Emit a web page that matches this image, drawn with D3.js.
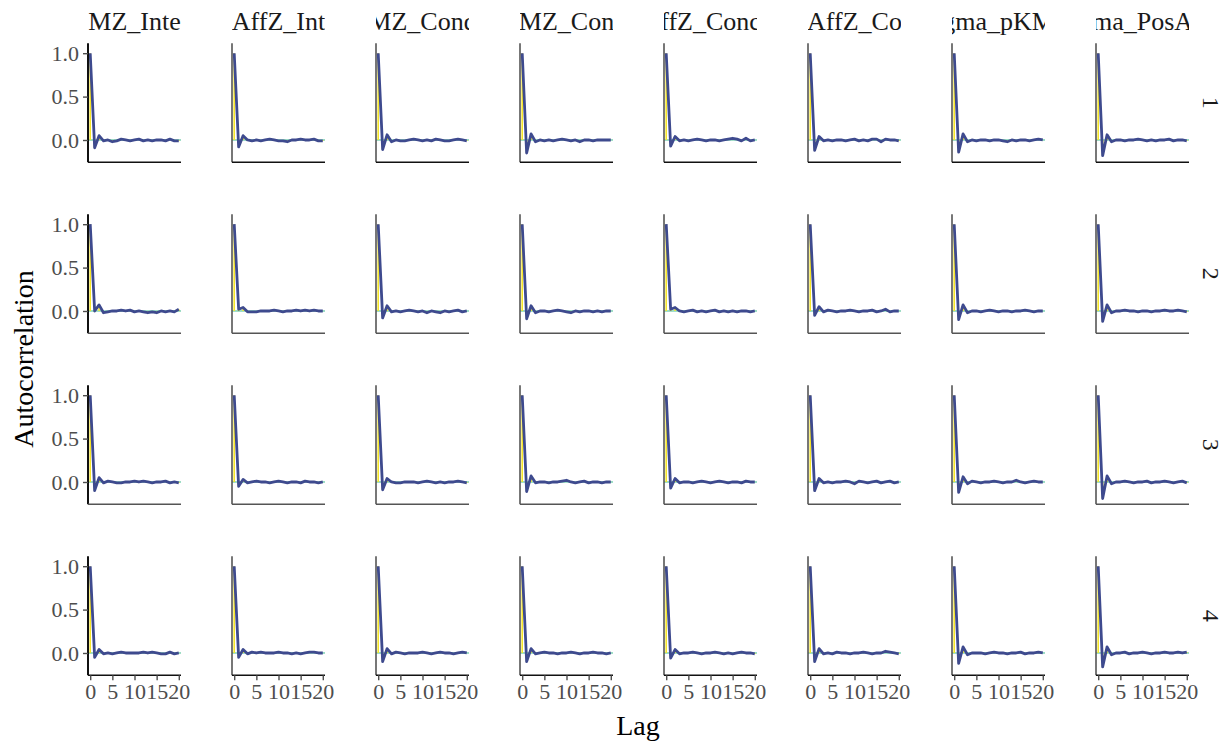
<!DOCTYPE html>
<html>
<head>
<meta charset="utf-8">
<script src="https://cdn.jsdelivr.net/npm/d3@7"></script>
<style>
  body { margin: 0; background: #fff; }
  svg { display: block; }
  svg text { font-family: 'Liberation Serif', 'Times New Roman', serif; }
</style>
</head>
<body>
<svg id="chart" width="1228" height="744"></svg>
<script>
// strip labels as they appear (clipped) in the facets
const params = ['MZ_Inte', 'AffZ_Int', 'MZ_Cond', 'MZ_Con', 'ffZ_Conc', 'AffZ_Co', 'gma_pKM', 'ma_PosA'];
const chains = ['1', '2', '3', '4'];
const lags = d3.range(0, 21);
const xTicks = [0, 5, 10, 15, 20];
const yTicks = [0, 0.5, 1];

const acfChain1 = [
  [1, -0.09, 0.05, -0.01, 0.0, -0.02, -0.01, 0.01, 0.0, -0.01, 0.0, 0.01, -0.01, 0.0, -0.01, 0.0, 0.0, -0.01, 0.01, -0.01, -0.01],
  [1, -0.08, 0.05, 0.0, -0.01, 0.0, -0.01, 0.0, 0.01, 0.0, -0.01, -0.01, -0.02, 0.0, 0.0, 0.01, 0.0, 0.0, 0.01, -0.01, -0.01],
  [1, -0.11, 0.06, -0.02, 0.0, -0.01, -0.01, 0.0, 0.01, 0.0, -0.01, 0.0, -0.01, 0.01, 0.0, -0.01, -0.01, 0.0, 0.01, 0.0, -0.01],
  [1, -0.15, 0.07, -0.02, 0.0, -0.01, 0.0, -0.01, 0.0, 0.01, 0.0, -0.01, 0.0, -0.02, 0.0, 0.0, -0.01, 0.0, 0.0, 0.0, 0.0],
  [1, -0.07, 0.04, -0.01, 0.0, -0.01, 0.0, 0.01, 0.0, -0.01, 0.0, 0.0, -0.01, 0.0, 0.01, 0.02, 0.01, -0.01, 0.02, -0.01, 0.0],
  [1, -0.12, 0.04, -0.01, 0.0, -0.01, 0.0, 0.0, -0.01, 0.0, 0.01, -0.01, 0.0, -0.01, 0.01, 0.01, -0.02, 0.01, 0.0, 0.0, -0.01],
  [1, -0.14, 0.07, -0.02, 0.0, -0.01, 0.0, 0.0, -0.01, 0.0, 0.0, -0.01, -0.02, 0.0, -0.01, 0.0, 0.0, -0.01, 0.0, 0.01, 0.0],
  [1, -0.18, 0.06, -0.02, 0.0, 0.0, -0.01, 0.0, 0.0, 0.01, 0.0, -0.01, 0.0, -0.01, 0.0, 0.0, 0.01, -0.01, 0.0, 0.0, -0.01]
];
const acfChain2 = [
  [1, 0.0, 0.07, -0.02, -0.01, 0.0, 0.0, 0.01, 0.0, 0.01, -0.01, 0.0, -0.01, -0.02, -0.01, -0.02, 0.0, -0.01, 0.0, -0.01, 0.02],
  [1, 0.02, 0.04, -0.01, -0.01, -0.01, 0.0, 0.0, 0.0, 0.01, 0.0, -0.01, 0.0, 0.0, 0.01, 0.0, 0.01, 0.0, 0.01, 0.0, 0.0],
  [1, -0.08, 0.06, -0.01, 0.0, -0.01, 0.0, 0.01, 0.0, -0.01, 0.0, -0.02, 0.0, -0.01, -0.02, 0.0, -0.01, 0.0, 0.01, -0.01, 0.0],
  [1, -0.09, 0.06, -0.02, 0.0, 0.0, -0.01, 0.0, 0.01, 0.0, -0.01, -0.02, 0.0, -0.01, 0.0, 0.0, -0.01, 0.0, -0.01, 0.0, 0.0],
  [1, 0.02, 0.04, 0.0, -0.01, 0.0, 0.01, -0.01, 0.0, -0.01, 0.0, 0.01, -0.01, 0.0, -0.01, 0.0, -0.01, 0.0, 0.0, -0.01, 0.0],
  [1, -0.05, 0.05, -0.01, 0.01, 0.0, -0.01, 0.0, 0.0, 0.01, 0.0, -0.01, 0.0, 0.0, 0.01, -0.01, 0.0, 0.02, -0.01, 0.0, 0.0],
  [1, -0.1, 0.07, -0.02, 0.0, 0.0, -0.01, 0.0, 0.01, 0.0, -0.01, 0.0, 0.0, -0.01, 0.0, 0.0, 0.01, 0.0, -0.01, 0.0, 0.0],
  [1, -0.12, 0.07, -0.02, 0.0, 0.0, 0.01, 0.0, 0.0, -0.01, 0.0, 0.0, -0.01, 0.0, 0.0, 0.01, 0.0, 0.0, 0.01, 0.0, -0.01]
];
const acfChain3 = [
  [1, -0.1, 0.05, -0.01, 0.01, 0.0, -0.01, -0.01, 0.0, 0.0, 0.01, 0.0, 0.01, 0.0, -0.01, 0.0, 0.0, 0.01, -0.01, 0.0, -0.01],
  [1, -0.05, 0.03, -0.01, 0.0, 0.01, 0.0, 0.0, -0.01, 0.0, 0.01, 0.0, -0.01, 0.0, 0.0, -0.01, 0.01, 0.0, 0.0, -0.01, 0.0],
  [1, -0.09, 0.04, 0.0, -0.01, -0.01, 0.0, 0.0, 0.0, -0.01, 0.0, 0.01, 0.0, -0.01, 0.0, -0.01, 0.0, 0.0, 0.01, 0.0, -0.01],
  [1, -0.11, 0.07, -0.01, 0.0, 0.0, -0.01, 0.0, 0.0, 0.01, 0.02, 0.0, -0.01, 0.0, 0.01, -0.01, 0.0, 0.0, -0.01, 0.0, 0.0],
  [1, -0.07, 0.04, -0.01, 0.0, 0.0, -0.01, 0.0, 0.01, 0.0, -0.01, 0.0, 0.01, 0.0, -0.01, 0.0, 0.0, -0.01, 0.01, 0.0, 0.0],
  [1, -0.1, 0.04, -0.01, 0.0, -0.01, 0.0, 0.0, 0.01, 0.0, -0.02, 0.01, 0.0, -0.01, 0.0, 0.01, -0.01, 0.0, 0.01, -0.01, 0.0],
  [1, -0.12, 0.06, -0.02, 0.01, 0.0, -0.01, 0.0, 0.0, 0.01, 0.0, -0.01, 0.0, 0.0, 0.02, 0.0, -0.01, 0.0, 0.01, 0.0, 0.0],
  [1, -0.19, 0.07, -0.02, 0.0, 0.0, 0.01, 0.0, -0.01, 0.0, 0.0, 0.01, -0.01, 0.0, 0.0, 0.01, 0.0, -0.01, 0.0, 0.01, -0.01]
];
const acfChain4 = [
  [1, -0.05, 0.04, -0.01, 0.0, -0.01, 0.0, 0.01, 0.0, 0.0, 0.0, 0.0, 0.01, 0.0, 0.01, 0.0, -0.01, -0.01, 0.01, -0.01, 0.0],
  [1, -0.05, 0.04, -0.01, 0.01, 0.0, 0.01, 0.0, 0.0, 0.0, 0.01, 0.0, 0.0, -0.01, 0.0, -0.01, 0.0, 0.01, 0.01, 0.0, 0.0],
  [1, -0.1, 0.05, -0.01, 0.01, 0.0, -0.01, 0.0, 0.0, 0.0, 0.01, 0.0, -0.01, 0.0, 0.01, 0.0, 0.0, -0.01, 0.0, 0.01, 0.0],
  [1, -0.1, 0.05, -0.01, 0.0, 0.01, 0.0, 0.0, -0.01, 0.0, 0.0, 0.01, 0.0, -0.01, 0.0, 0.0, 0.01, 0.0, 0.0, -0.01, 0.0],
  [1, -0.06, 0.04, -0.01, 0.0, 0.0, 0.01, 0.0, -0.01, 0.0, 0.0, 0.01, 0.0, -0.01, 0.0, -0.01, 0.0, 0.01, 0.0, 0.0, -0.01],
  [1, -0.1, 0.05, -0.01, 0.0, -0.01, 0.01, 0.0, 0.0, -0.01, 0.0, 0.0, 0.01, 0.0, -0.01, 0.0, 0.0, 0.02, 0.01, 0.0, -0.01],
  [1, -0.12, 0.07, -0.02, 0.0, 0.0, 0.0, -0.01, 0.0, 0.01, 0.0, 0.0, -0.01, 0.0, 0.0, 0.01, -0.01, 0.0, 0.0, 0.01, 0.0],
  [1, -0.16, 0.07, -0.02, 0.0, 0.0, 0.01, -0.01, 0.0, 0.0, 0.01, 0.0, -0.01, 0.0, 0.0, 0.01, 0.0, 0.0, 0.01, 0.0, 0.01]
];
const acfByChain = [acfChain1, acfChain2, acfChain3, acfChain4];

// layout
const panelLeft = 88, colStep = 144, panelW = 93;
const panelTop = 43.3, rowStep = 171, panelH = 119;
const serif = "'Liberation Serif', 'Times New Roman', serif";

const svg = d3.select('#chart');

const x = d3.scaleLinear().domain([-0.5, 20.5]).range([0, panelW]);
const y = d3.scaleLinear().domain([-0.257, 1.114]).range([panelH, 0]);

const line = d3.line()
  .x((d, i) => x(lags[i]))
  .y(d => y(d));

const defs = svg.append('defs');
params.forEach((p, c) => {
  defs.append('clipPath').attr('id', `strip-${c}`)
    .append('rect')
    .attr('x', panelLeft + c * colStep)
    .attr('y', 0)
    .attr('width', panelW)
    .attr('height', 40);
});

// strip labels on top
svg.selectAll('.strip-top')
  .data(params)
  .enter()
  .append('text')
  .attr('class', 'strip-top')
  .attr('clip-path', (d, c) => `url(#strip-${c})`)
  .attr('x', (d, c) => panelLeft + c * colStep + panelW / 2)
  .attr('y', 30)
  .attr('text-anchor', 'middle')
  .attr('font-family', serif)
  .attr('font-size', 26)
  .attr('fill', '#1a1a1a')
  .text(d => d);

// strip labels on the right
svg.selectAll('.strip-right')
  .data(chains)
  .enter()
  .append('text')
  .attr('class', 'strip-right')
  .attr('transform', (d, r) => `translate(1203, ${panelTop + r * rowStep + panelH / 2}) rotate(90)`)
  .attr('text-anchor', 'middle')
  .attr('font-family', serif)
  .attr('font-size', 24)
  .attr('fill', '#1a1a1a')
  .text(d => d);

chains.forEach((chain, r) => {
  params.forEach((p, c) => {
    const vals = acfByChain[r][c];
    const g = svg.append('g')
      .attr('transform', `translate(${panelLeft + c * colStep}, ${panelTop + r * rowStep})`);

    g.append('line')
      .attr('x1', 0).attr('x2', panelW)
      .attr('y1', y(0)).attr('y2', y(0))
      .attr('stroke', '#3fbc8c')
      .attr('stroke-width', 1);

    g.selectAll('.seg')
      .data(vals)
      .enter()
      .append('line')
      .attr('class', 'seg')
      .attr('x1', (d, i) => x(lags[i]))
      .attr('x2', (d, i) => x(lags[i]))
      .attr('y1', y(0))
      .attr('y2', d => y(d))
      .attr('stroke', '#f5e52a')
      .attr('stroke-width', 1.6);

    g.append('path')
      .datum(vals)
      .attr('d', line)
      .attr('fill', 'none')
      .attr('stroke', '#3e4a8e')
      .attr('stroke-width', 2.8)
      .attr('stroke-linejoin', 'round');

    // axis lines
    g.append('line')
      .attr('x1', 0).attr('x2', 0)
      .attr('y1', 0).attr('y2', panelH)
      .attr('stroke', c === 0 ? '#111' : '#555')
      .attr('stroke-width', c === 0 ? 2 : 1.6);
    g.append('line')
      .attr('x1', 0).attr('x2', panelW)
      .attr('y1', panelH).attr('y2', panelH)
      .attr('stroke', r === 3 || r === 0 ? '#111' : '#555')
      .attr('stroke-width', 1.6);

    if (c === 0) {
      const ya = g.append('g')
        .call(d3.axisLeft(y).tickValues(yTicks).tickFormat(d3.format('.1f')).tickSize(5).tickPadding(4));
      ya.attr('font-family', serif);
      ya.select('.domain').remove();
      ya.selectAll('line').attr('stroke', '#4d4d4d').attr('stroke-width', 1.4);
      ya.selectAll('text')
        .attr('font-family', serif)
        .attr('font-size', 22)
        .attr('fill', '#4d4d4d');
    }
    if (r === 3) {
      const xa = g.append('g')
        .attr('transform', `translate(0, ${panelH})`)
        .call(d3.axisBottom(x).tickValues(xTicks).tickSize(5).tickPadding(3));
      xa.attr('font-family', serif);
      xa.select('.domain').remove();
      xa.selectAll('line').attr('stroke', '#4d4d4d').attr('stroke-width', 1.4);
      xa.selectAll('text')
        .attr('font-family', serif)
        .attr('font-size', 22)
        .attr('fill', '#4d4d4d');
    }
  });
});

// axis titles
svg.append('text')
  .attr('x', 638)
  .attr('y', 735)
  .attr('text-anchor', 'middle')
  .attr('font-family', serif)
  .attr('font-size', 28)
  .attr('fill', '#000')
  .text('Lag');

svg.append('text')
  .attr('transform', 'translate(33, 359) rotate(-90)')
  .attr('text-anchor', 'middle')
  .attr('font-family', serif)
  .attr('font-size', 28)
  .attr('fill', '#000')
  .text('Autocorrelation');
</script>
</body>
</html>
